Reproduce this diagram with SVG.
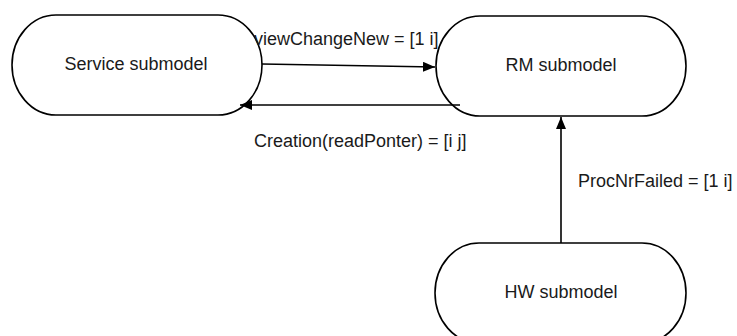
<svg xmlns="http://www.w3.org/2000/svg" width="737" height="336" viewBox="0 0 737 336">
  <style>
    .node { fill: #ffffff; stroke: #000000; stroke-width: 1.6; }
    .edge { fill: none; stroke: #000000; stroke-width: 1.6; }
    .label { font-family: "Liberation Sans", Arial, sans-serif; font-size: 18px; fill: #1a1a1a; }
    .center { text-anchor: middle; }
  </style>
  <defs>
    <marker id="arrow" viewBox="0 0 12 10" refX="12" refY="5" markerWidth="12" markerHeight="10" markerUnits="userSpaceOnUse" orient="auto">
      <path d="M0,0 L12,5 L0,10 Z" fill="#000000"/>
    </marker>
  </defs>

  <g id="service-submodel">
    <rect class="node" x="12" y="15" width="250" height="100" rx="44" ry="50"/>
    <text class="label center" x="136" y="70">Service submodel</text>
  </g>

  <g id="rm-submodel">
    <rect class="node" x="436" y="16" width="250" height="100" rx="44" ry="50"/>
    <text class="label center" x="561" y="71">RM submodel</text>
  </g>

  <g id="hw-submodel">
    <rect class="node" x="435" y="243" width="251" height="100" rx="44" ry="50"/>
    <text class="label center" x="561" y="298">HW submodel</text>
  </g>

  <g id="connectors">
    <line class="edge" x1="262" y1="64" x2="435" y2="67" marker-end="url(#arrow)"/>
    <line class="edge" x1="460" y1="105" x2="240" y2="105" marker-end="url(#arrow)"/>
    <line class="edge" x1="561" y1="243" x2="561" y2="117" marker-end="url(#arrow)"/>
    <text class="label" x="254" y="45">viewChangeNew = [1 i]</text>
    <text class="label" x="254" y="147">Creation(readPonter) = [i j]</text>
    <text class="label" x="578" y="187">ProcNrFailed = [1 i]</text>
  </g>
</svg>
